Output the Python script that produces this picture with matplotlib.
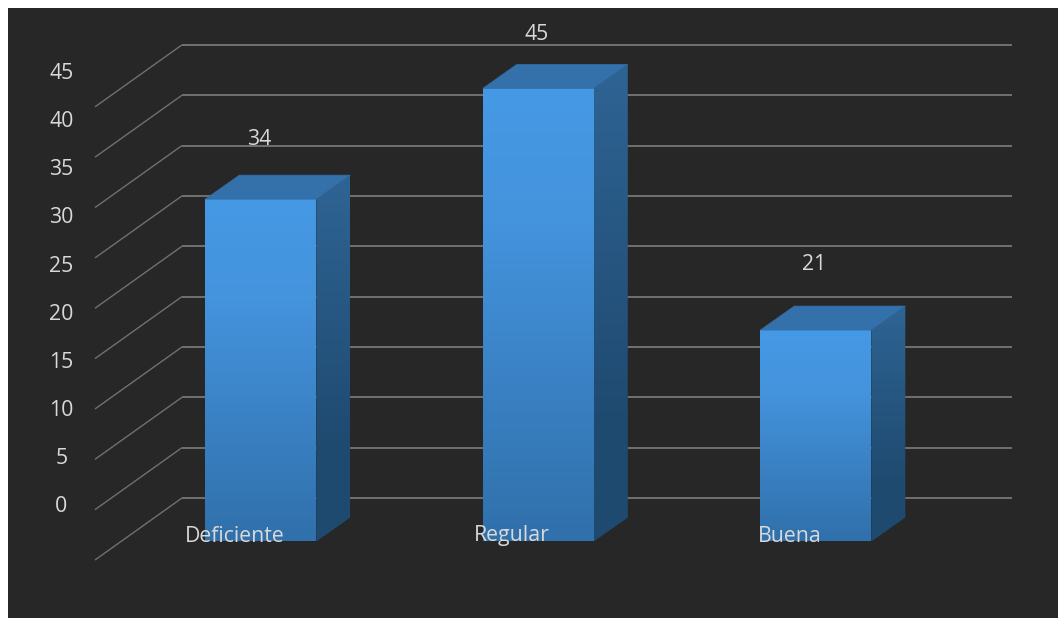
import numpy as np
import matplotlib
matplotlib.use("Agg")
import matplotlib.pyplot as plt
from matplotlib.colors import LinearSegmentedColormap
from matplotlib.patches import Polygon

categories = ["Deficiente", "Regular", "Buena"]
values = [34, 45, 21]
axis_ticks = [0, 5, 10, 15, 20, 25, 30, 35, 40, 45]

W, H = 1058, 618
PX_X = 277.5     # pixels per category step
PX_Y = 10.07     # pixels per value unit
X0, Y0 = 260.8, 541.5  # pixel of first category centre, value 0
BAR_W = 111 / PX_X
DX, DY = 34 / PX_X, 24 / PX_Y          # bar depth
WALL_DX, WALL_DY = 87 / PX_X, 62 / PX_Y  # floor depth of gridlines
LEFT, WALL_BACK, RIGHT = (95 - X0) / PX_X, (182 - X0) / PX_X, (1012 - X0) / PX_X
BASE = (Y0 - 560) / PX_Y

BG, GRID, TXT = "#272727", "#707070", "#D9D9D9"
FONT = "Open Sans"
FS = 15.3

fig = plt.figure(figsize=(W / 100, H / 100), dpi=100, facecolor="white")
ax = fig.add_axes([8 / W, 0, (W - 8) / W, (H - 8) / H], facecolor=BG)
xlim = ((8 - X0) / PX_X, (W - X0) / PX_X)
ylim = ((Y0 - H) / PX_Y, (Y0 - 8) / PX_Y)
for s in ax.spines.values():
    s.set_visible(False)
ax.set_xticks([])
ax.set_yticks([])

# gridlines: diagonal on the left side wall, horizontal on the back wall
for v in axis_ticks:
    y_front = BASE + v
    y_back = y_front + WALL_DY
    ax.plot([LEFT, WALL_BACK], [y_front, y_back], color=GRID, lw=1.0, zorder=1,
            solid_capstyle="butt")
    ax.plot([WALL_BACK, RIGHT], [y_back, y_back], color=GRID, lw=1.4, zorder=1,
            solid_capstyle="butt")

front_cmap = LinearSegmentedColormap.from_list(
    "front", [(0, "#4699E5"), (0.3, "#4493DD"), (1, "#3070AB")])
side_cmap = LinearSegmentedColormap.from_list(
    "side", [(0, "#2E6494"), (0.75, "#1F4A70"), (1, "#1F4A70")])
grad = np.linspace(0, 1, 256).reshape(-1, 1)

for i, v in enumerate(values):
    l, r = i - BAR_W / 2, i + BAR_W / 2
    front = Polygon([(l, 0), (r, 0), (r, v), (l, v)], closed=True,
                    fc="none", ec="none", zorder=3)
    side = Polygon([(r, 0), (r + DX, DY), (r + DX, v + DY), (r, v)], closed=True,
                   fc="none", ec="none", zorder=3)
    top = Polygon([(l, v), (r, v), (r + DX, v + DY), (l + DX, v + DY)], closed=True,
                  fc="#3471AB", ec="#2F6CA5", lw=0.5, zorder=3)
    for p in (front, side, top):
        ax.add_patch(p)
    im = ax.imshow(grad, cmap=front_cmap, extent=(l, r, 0, v), aspect="auto",
                   origin="upper", zorder=2.5)
    im.set_clip_path(front)
    im2 = ax.imshow(grad, cmap=side_cmap, extent=(r, r + DX, 0, v + DY), aspect="auto",
                    origin="upper", zorder=2.5)
    im2.set_clip_path(side)

ax.set_xlim(*xlim)
ax.set_ylim(*ylim)

# value-axis labels
for v in axis_ticks:
    ax.text((61.5 - X0) / PX_X, (Y0 - 504) / PX_Y + v * 0.955, str(v), color=TXT,
            ha="center", va="center_baseline", family=FONT, fontsize=FS, zorder=5)

# category labels
for i, c in enumerate(categories):
    ax.text(i - 26 / PX_X, (Y0 - 533.5) / PX_Y, c, color=TXT, ha="center", va="center_baseline",
            family=FONT, fontsize=FS, zorder=5)

# data labels
for i, v in enumerate(values):
    ax.text(i - 1.5 / PX_X, 0.95 * v + 7.85, str(v), color=TXT, ha="center", va="center_baseline",
            family=FONT, fontsize=FS, zorder=5)

fig.savefig("out.png", dpi=100, facecolor=fig.get_facecolor())
